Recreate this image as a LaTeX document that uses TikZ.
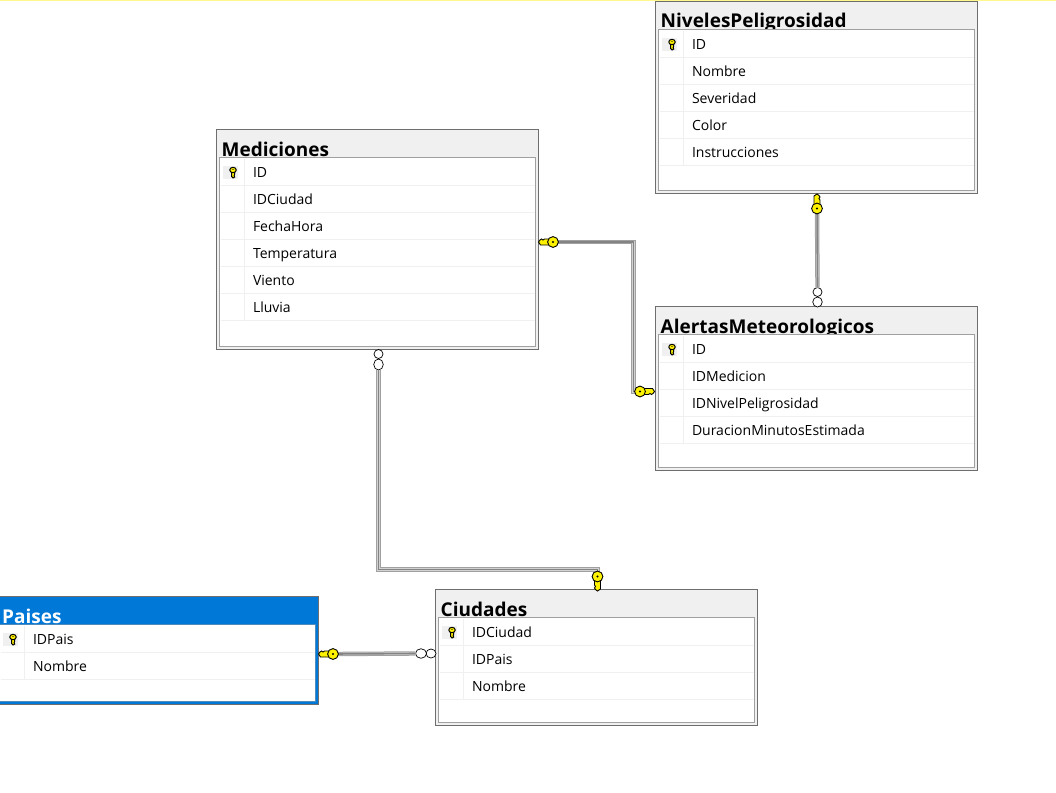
\documentclass[tikz,border=0pt]{standalone}
\usepackage{fontspec}
\setmainfont{Open Sans}
\usetikzlibrary{shapes.geometric,positioning}
\definecolor{framegray}{HTML}{6E6E6E}
\definecolor{gridgray}{HTML}{A0A0A0}
\definecolor{headgray}{HTML}{F0F0F0}
\definecolor{selectblue}{HTML}{0078D7}
\tikzset{
tableframe/.style={draw=framegray, fill=headgray, line width=1pt, anchor=north west, minimum width=322pt, inner sep=0pt, outer sep=0pt},
selectframe/.style={tableframe, fill=selectblue, draw=framegray},
tablegrid/.style={draw=gridgray, fill=white, line width=1pt, minimum width=316pt, inner sep=0pt, outer sep=0pt},
titletext/.style={anchor=base west, inner sep=0pt, font=\fontsize{19}{22}\selectfont\bfseries},
rowbox/.style={minimum height=27pt, text width=314pt, inner sep=0pt, outer sep=0pt, align=left, text height=13pt, text depth=3pt, font=\fontsize{14}{16}\selectfont, execute at begin node=\hspace*{32.5pt},
  path picture={
    \draw[headgray, line width=1pt] ([yshift=.5pt]path picture bounding box.south west) -- ([yshift=.5pt]path picture bounding box.south east);
    \draw[headgray, line width=1pt] ([xshift=24pt]path picture bounding box.south west) -- ([xshift=24pt]path picture bounding box.north west);
  }},
relline/.style={draw=gridgray, line width=4.4pt,
  postaction={draw=gray!35, line width=2.4pt},
  postaction={draw=framegray!85, line width=1.6pt, xshift=.8pt, yshift=-.8pt}},
ringmark/.style={ellipse, draw=black, fill=white, line width=.7pt, inner sep=0pt, outer sep=0pt},
smallkey/.pic={
  \fill[headgray] (-10.5,-6.5) rectangle (4.5,6.5);
  \draw[black, fill=yellow, line width=1pt] (-1.4,-1) -- (-1.4,4) -- (0,5.5) -- (1.7,4.5) -- (1.1,3) -- (1.7,2) -- (1.4,-1) -- cycle;
  \draw[black, fill=yellow, line width=1pt] (0,-2.5) ellipse (3.2 and 2.7);
  \fill[black] (0,-3) circle (.7);
},
relkey/.pic={
  \draw[black, fill=yellow, line width=.9pt] (3,-3) -- (12.5,-3) -- (14.5,0) -- (13,2) -- (11.5,3) -- (10,2) -- (8.5,3) -- (3,3) -- cycle;
  \draw[black, fill=yellow, line width=.9pt] (0,0) circle (5.4);
  \fill[black] (0,0) circle (1.2);
},
}
\begin{document}
\begin{tikzpicture}[x=1pt, y=-1pt]
\clip[use as bounding box] (0,0) rectangle (1056,792);
\draw[yellow!45, line width=1.2pt] (0,0.5) -- (1056,0.5);
%NivelesPeligrosidad
\node[tableframe, minimum height=192pt] (niveles) at (655.5,1.5) {};
\node[titletext, xshift=5pt, yshift=-26.5pt] (nivelesTitle) at (niveles.north west) {NivelesPeligrosidad};
\node[tablegrid, minimum height=161pt, below = 28pt of niveles.north] (nivelesGrid) {};
\node[rowbox, below = 1.5pt of nivelesGrid.north] (nivelesID) {ID};
\node[rowbox, below = 0pt of nivelesID] (nivelesNombre) {Nombre};
\node[rowbox, below = 0pt of nivelesNombre] (nivelesSeveridad) {Severidad};
\node[rowbox, below = 0pt of nivelesSeveridad] (nivelesColor) {Color};
\node[rowbox, below = 0pt of nivelesColor] (nivelesInstrucciones) {Instrucciones};
\pic[xshift=12.5pt] at (nivelesID.west) {smallkey};
%Mediciones
\node[tableframe, minimum height=220pt] (mediciones) at (216.5,129.5) {};
\node[titletext, xshift=5pt, yshift=-26.5pt] (medicionesTitle) at (mediciones.north west) {Mediciones};
\node[tablegrid, minimum height=189pt, below = 28pt of mediciones.north] (medicionesGrid) {};
\node[rowbox, below = 1.5pt of medicionesGrid.north] (medicionesID) {ID};
\node[rowbox, below = 0pt of medicionesID] (medicionesCiudad) {IDCiudad};
\node[rowbox, below = 0pt of medicionesCiudad] (medicionesFecha) {FechaHora};
\node[rowbox, below = 0pt of medicionesFecha] (medicionesTemp) {Temperatura};
\node[rowbox, below = 0pt of medicionesTemp] (medicionesViento) {Viento};
\node[rowbox, below = 0pt of medicionesViento] (medicionesLluvia) {Lluvia};
\pic[xshift=12.5pt] at (medicionesID.west) {smallkey};
%AlertasMeteorologicos
\node[tableframe, minimum height=164pt] (alertas) at (655.5,306.5) {};
\node[titletext, xshift=5pt, yshift=-26.5pt] (alertasTitle) at (alertas.north west) {AlertasMeteorologicos};
\node[tablegrid, minimum height=133pt, below = 28pt of alertas.north] (alertasGrid) {};
\node[rowbox, below = 1.5pt of alertasGrid.north] (alertasID) {ID};
\node[rowbox, below = 0pt of alertasID] (alertasMedicion) {IDMedicion};
\node[rowbox, below = 0pt of alertasMedicion] (alertasNivel) {IDNivelPeligrosidad};
\node[rowbox, below = 0pt of alertasNivel] (alertasDuracion) {DuracionMinutosEstimada};
\pic[xshift=12.5pt] at (alertasID.west) {smallkey};
%Ciudades
\node[tableframe, minimum height=136pt] (ciudades) at (435.5,589.5) {};
\node[titletext, xshift=5pt, yshift=-26.5pt] (ciudadesTitle) at (ciudades.north west) {Ciudades};
\node[tablegrid, minimum height=105pt, below = 28pt of ciudades.north] (ciudadesGrid) {};
\node[rowbox, below = 1.5pt of ciudadesGrid.north] (ciudadesID) {IDCiudad};
\node[rowbox, below = 0pt of ciudadesID] (ciudadesPais) {IDPais};
\node[rowbox, below = 0pt of ciudadesPais] (ciudadesNombre) {Nombre};
\pic[xshift=12.5pt] at (ciudadesID.west) {smallkey};
%Paises
\node[selectframe, minimum height=108pt] (paises) at (-3.5,596.5) {};
\node[titletext, text=white, xshift=5.5pt, yshift=-26.5pt] (paisesTitle) at (paises.north west) {Paises};
\node[tablegrid, draw=selectblue!50!gridgray, minimum height=77pt, below = 28pt of paises.north] (paisesGrid) {};
\node[rowbox, below = 1.5pt of paisesGrid.north] (paisesID) {IDPais};
\node[rowbox, below = 0pt of paisesID] (paisesNombre) {Nombre};
\pic[xshift=12.5pt] at (paisesID.west) {smallkey};
%relation ends
\coordinate (keyNiveles) at (817,208.5);
\coordinate (keyMediciones) at (553,242);
\coordinate (keyAlertas) at (640,391.5);
\coordinate (keyCiudades) at (597.5,576.5);
\coordinate (keyPaises) at (333,654);
\coordinate (bendAlertas) at (633.5,300);
\coordinate (bendCiudades) at (597.5,569.5);
\node[ringmark, minimum width=9pt, minimum height=9pt] (ringMedA) at (378.5,354) {};
\node[ringmark, minimum width=9.5pt, minimum height=11pt] (ringMedB) at (378.5,364.5) {};
\node[ringmark, minimum width=9.5pt, minimum height=10pt] (ringAleA) at (817.5,302) {};
\node[ringmark, minimum width=9pt, minimum height=9pt] (ringAleB) at (817.5,292) {};
\node[ringmark, minimum width=10pt, minimum height=9pt] (ringCiuA) at (431,653.5) {};
\node[ringmark, minimum width=11pt, minimum height=9.5pt] (ringCiuB) at (421,653.5) {};
%relations
\draw[relline] (keyMediciones) -| (bendAlertas) |- (keyAlertas);
\draw[relline] (ringMedB.south) |- (bendCiudades) -- (keyCiudades);
\draw[relline] (keyNiveles) -- (ringAleB.north);
\draw[relline] (keyPaises) -- (ringCiuB.west);
\pic[rotate=90] at (keyNiveles) {relkey};
\pic[rotate=180] at (keyMediciones) {relkey};
\pic at (keyAlertas) {relkey};
\pic[rotate=-90] at (keyCiudades) {relkey};
\pic[rotate=180] at (keyPaises) {relkey};
\end{tikzpicture}
\end{document}
